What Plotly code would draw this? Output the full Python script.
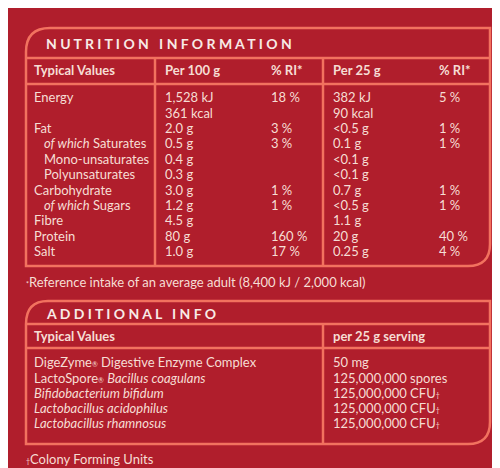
import plotly.graph_objects as go

# Nutrition table
nut_labels = ["Energy", "", "Fat", "   <i>of which</i> Saturates", "   Mono-unsaturates",
              "   Polyunsaturates", "Carbohydrate", "   <i>of which</i> Sugars", "Fibre",
              "Protein", "Salt"]
per100 = ["1,528 kJ", "361 kcal", "2.0 g", "0.5 g", "0.4 g", "0.3 g", "3.0 g", "1.2 g",
          "4.5 g", "80 g", "1.0 g"]
ri100 = ["18 %", "", "3 %", "3 %", "", "", "1 %", "1 %", "", "160 %", "17 %"]
per25 = ["382 kJ", "90 kcal", "<0.5 g", "0.1 g", "<0.1 g", "<0.1 g", "0.7 g", "<0.5 g",
         "1.1 g", "20 g", "0.25 g"]
ri25 = ["5 %", "", "1 %", "1 %", "", "", "1 %", "1 %", "", "40 %", "4 %"]
nut_headers = ["Typical Values", "Per 100 g", "% RI*", "Per 25 g", "% RI*"]

SM = "<span style='font-size:7px'>{}</span>"

# Additional info table
add_labels = ["DigeZyme" + SM.format("®") + " Digestive Enzyme Complex",
              "LactoSpore" + SM.format("®") + " <i>Bacillus coagulans</i>",
              "<i>Bifidobacterium bifidum</i>",
              "<i>Lactobacillus acidophilus</i>",
              "<i>Lactobacillus rhamnosus</i>"]
add_values = ["50 mg", "125,000,000 spores", "125,000,000 CFU" + SM.format("†"),
              "125,000,000 CFU" + SM.format("†"), "125,000,000 CFU" + SM.format("†")]
add_headers = ["Typical Values", "per 25 g serving"]

BG = "#B01E2C"
LINE = "#F2725F"
TXT = "#F6DDD4"
FONT = "Lato"

fig = go.Figure()

def col(xpos, ys, texts, bold=False, size=13):
    fig.add_trace(go.Scatter(
        x=[xpos] * len(texts), y=ys,
        text=[f"<b>{t}</b>" if bold else t for t in texts],
        mode="text", textposition="middle right",
        textfont=dict(family=FONT, size=size, color=TXT),
        hoverinfo="skip", showlegend=False))

row_y = [91 + i * 15.4 for i in range(len(nut_labels))]
for xpos, vals in zip([26, 157, 263, 325, 431], [nut_labels, per100, ri100, per25, ri25]):
    col(xpos, row_y, vals)
col(26, [64] * 5, nut_headers, bold=True)
fig.data[-1].x = [26, 157, 263, 325, 431]

add_y = [356 + i * 15.3 for i in range(len(add_labels))]
col(26, add_y, add_labels)
col(325, add_y, add_values)
col(26, [330, 330], add_headers, bold=True)
fig.data[-1].x = [26, 325]

shapes = [
    dict(type="path", path="M 18 258 L 18 44 Q 18 20 42 20 L 482 20 L 482 236 Q 482 258 460 258 Z"),
    dict(type="line", x0=18, x1=482, y0=50, y1=50),
    dict(type="line", x0=18, x1=482, y0=76, y1=76),
    dict(type="line", x0=147, x1=147, y0=50, y1=258),
    dict(type="line", x0=315, x1=315, y0=50, y1=258),
    dict(type="path", path="M 18 436 L 18 316 Q 18 293 40 293 L 482 293 L 482 414 Q 482 436 460 436 Z"),
    dict(type="line", x0=18, x1=482, y0=316, y1=316),
    dict(type="line", x0=18, x1=482, y0=340, y1=340),
    dict(type="line", x0=315, x1=315, y0=316, y1=436),
]
for s in shapes:
    s.update(xref="x", yref="y", line=dict(color=LINE, width=2.5))

anns = [
    dict(x=36, y=35, text="<b>N U T R I T I O N   I N F O R M A T I O N</b>", size=14, color="#F8EAE6"),
    dict(x=36, y=305, text="<b>A D D I T I O N A L   I N F O</b>", size=14, color="#F8EAE6"),
    dict(x=16, y=274, text=SM.format("*") + "Reference intake of an average adult (8,400 kJ / 2,000 kcal)", size=13, color=TXT),
    dict(x=16, y=451, text=SM.format("†") + "Colony Forming Units", size=13, color=TXT),
]
fig.update_layout(annotations=[
    dict(x=a["x"], y=a["y"], text=a["text"], xref="x", yref="y", xanchor="left",
         yanchor="middle", showarrow=False,
         font=dict(family=FONT, size=a["size"], color=a["color"])) for a in anns])

fig.update_layout(
    shapes=shapes, width=500, height=468, margin=dict(l=0, r=0, t=0, b=0),
    paper_bgcolor=BG, plot_bgcolor=BG,
    xaxis=dict(range=[0, 500], visible=False, fixedrange=True),
    yaxis=dict(range=[468, 0], visible=False, fixedrange=True),
)
fig.write_html("out.html")
